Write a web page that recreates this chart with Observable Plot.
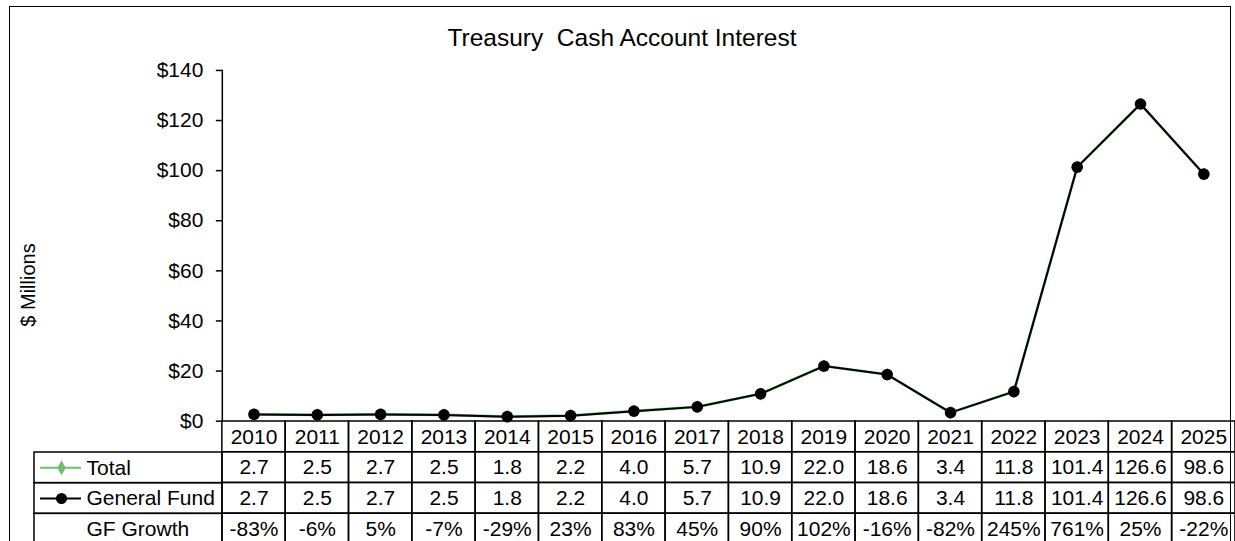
<!DOCTYPE html>
<html><head><meta charset="utf-8">
<script src="https://cdn.jsdelivr.net/npm/d3@7"></script>
<script src="https://cdn.jsdelivr.net/npm/@observablehq/plot@0.6"></script>
<style>
html,body{margin:0;padding:0;background:#fff;}
#wrap{position:relative;width:1235px;height:541px;overflow:hidden;font-family:"Liberation Sans",Arial,sans-serif;color:#000;background:#fff;}
#wrap svg{overflow:visible;position:absolute;}
.frame{position:absolute;left:9px;top:6px;width:1222px;height:600px;border:1.5px solid #000;box-sizing:border-box;}
.title{position:absolute;left:622px;top:26px;transform:translateX(-50%);font-size:24.5px;line-height:24px;white-space:pre;}
.ylab{position:absolute;left:28px;top:285px;transform:translate(-50%,-50%) rotate(-90deg);font-size:20px;line-height:20px;white-space:pre;}
</style></head><body>
<div id="wrap">
  <div class="frame"></div>
  <div class="title">Treasury  Cash Account Interest</div>
  <div class="ylab">$ Millions</div>
</div>
<script>
const years = [2010,2011,2012,2013,2014,2015,2016,2017,2018,2019,2020,2021,2022,2023,2024,2025];
const total = [2.7,2.5,2.7,2.5,1.8,2.2,4.0,5.7,10.9,22.0,18.6,3.4,11.8,101.4,126.6,98.6];
const generalFund = [2.7,2.5,2.7,2.5,1.8,2.2,4.0,5.7,10.9,22.0,18.6,3.4,11.8,101.4,126.6,98.6];
const gfGrowth = [-83,-6,5,-7,-29,23,83,45,90,102,-16,-82,245,761,25,-22];
const rowNames = ["Year","Total","General Fund","GF Growth"];
const yTicks = [0,20,40,60,80,100,120,140];
const green = "#6cbf6c";
const font = '"Liberation Sans", Arial, sans-serif';

const wrap = document.getElementById("wrap");

const series = years.map((y,i)=>({year:y,total:total[i],gf:generalFund[i]}));
const chart = Plot.plot({
  width:1236, height:422, marginTop:70, marginBottom:1, marginLeft:222, marginRight:0,
  style:{fontFamily:font, fontSize:"21px", background:"transparent", color:"#000", overflow:"visible"},
  x:{type:"band", domain:years, padding:0, round:false, axis:null},
  y:{domain:[0,140], axis:null},
  marks:[
    Plot.axisY({ticks:yTicks, tickFormat:d=>"$"+d, tickSize:6, tickPadding:13, strokeWidth:1.5, label:null, fontSize:21}),
    Plot.frame({anchor:"left", strokeWidth:1.5}),
    Plot.line(series,{x:"year",y:"total",stroke:green,strokeWidth:2.6}),
    Plot.dot(series,{x:"year",y:"total",symbol:"diamond",fill:green,r:4}),
    Plot.line(series,{x:"year",y:"gf",stroke:"#000",strokeWidth:2}),
    Plot.dot(series,{x:"year",y:"gf",fill:"#000",r:5.8})
  ]
});
chart.style.left="0px"; chart.style.top="0px";
wrap.appendChild(chart);

const cells = [];
years.forEach((y,i)=>{
  cells.push({year:y,row:"Year",label:String(y)});
  cells.push({year:y,row:"Total",label:total[i].toFixed(1)});
  cells.push({year:y,row:"General Fund",label:generalFund[i].toFixed(1)});
  cells.push({year:y,row:"GF Growth",label:gfGrowth[i]+"%"});
});
const table = Plot.plot({
  width:1236, height:123, marginTop:0, marginBottom:0, marginLeft:222, marginRight:0,
  style:{fontFamily:font, fontSize:"21px", background:"transparent", color:"#000", overflow:"visible"},
  x:{type:"band", domain:years, padding:0, round:false, axis:null},
  y:{type:"band", domain:rowNames, padding:0, round:false, axis:null},
  marks:[
    Plot.cell(cells,{x:"year",y:"row",fill:"none",stroke:"#000",strokeWidth:1.5,inset:0}),
    Plot.text(cells,{x:"year",y:"row",text:"label",fontSize:21,fill:"#000"})
  ]
});
table.style.left="0px"; table.style.top="421px";
wrap.appendChild(table);

const labelRows = rowNames.slice(1).map(r=>({row:r}));
const legendRows = [
  {row:"Total", color:green},
  {row:"General Fund", color:"#000"}
];
const labels = Plot.plot({
  width:190, height:92, marginTop:0, marginBottom:0, marginLeft:1, marginRight:1,
  style:{fontFamily:font, fontSize:"21px", background:"transparent", color:"#000", overflow:"visible"},
  y:{type:"band", domain:rowNames.slice(1), padding:0, round:false, axis:null},
  marks:[
    Plot.cell(labelRows,{y:"row",fill:"none",stroke:"#000",strokeWidth:1.5,inset:0}),
    Plot.ruleY(legendRows,{y:"row",stroke:"color",strokeWidth:2,insetLeft:6,insetRight:141}),
    Plot.dot(legendRows.slice(0,1),{y:"row",frameAnchor:"left",dx:27,symbol:"diamond",fill:green,r:4.5}),
    Plot.dot(legendRows.slice(1),{y:"row",frameAnchor:"left",dx:27,symbol:"circle",fill:"#000",r:5.5}),
    Plot.text(labelRows,{y:"row",text:"row",frameAnchor:"left",dx:52,textAnchor:"start",fontSize:21,fill:"#000"})
  ]
});
labels.style.left="33px"; labels.style.top="451.75px";
wrap.appendChild(labels);
</script>
</body></html>
